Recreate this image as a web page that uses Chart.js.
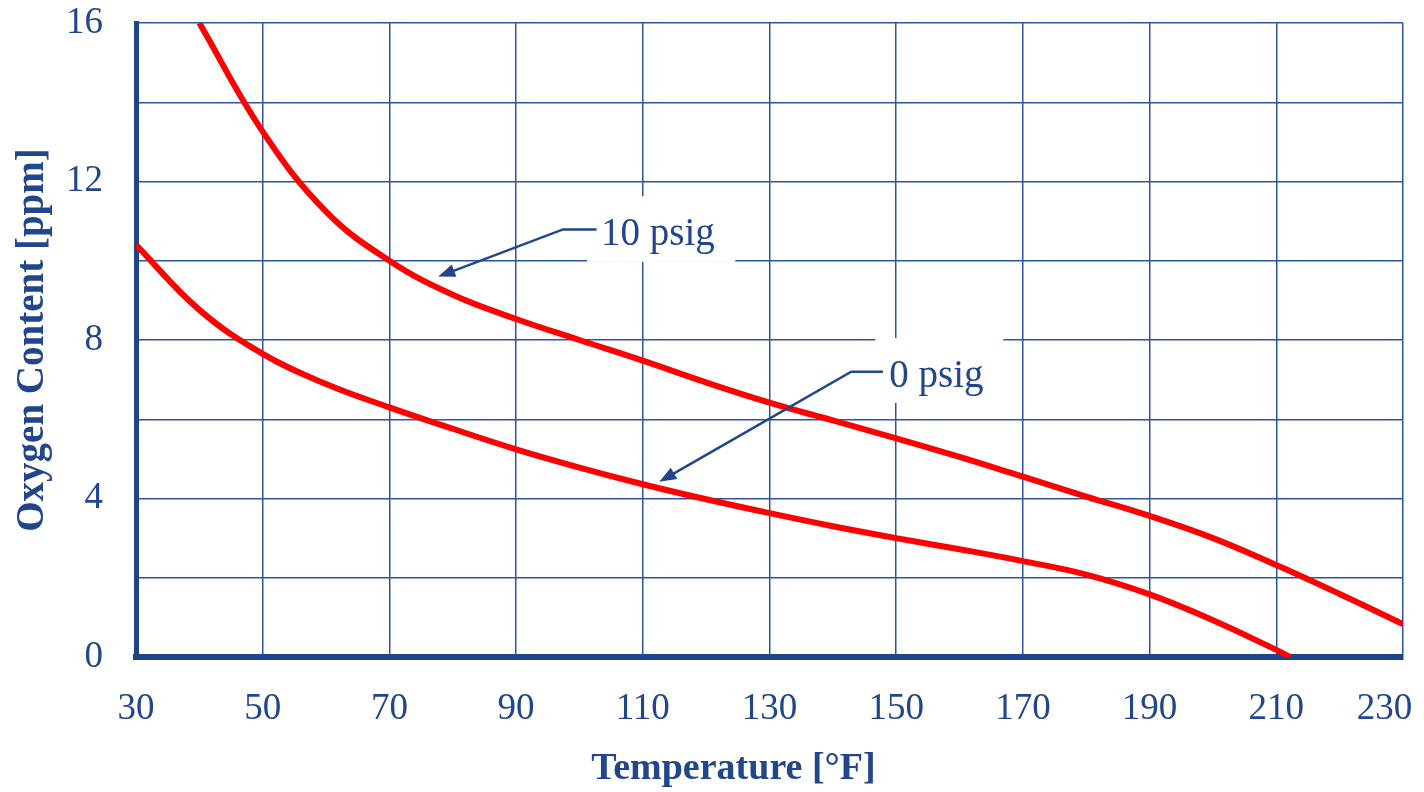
<!DOCTYPE html>
<html>
<head>
<meta charset="utf-8">
<script src="https://cdn.jsdelivr.net/npm/chart.js@4.4.1/dist/chart.umd.min.js"></script>
<style>
  html, body { margin: 0; padding: 0; background: #fff; }
  #wrap { width: 1424px; height: 792px; }
</style>
</head>
<body>
<div id="wrap"><canvas id="myChart" width="1424" height="792"></canvas></div>
<script>
// temperature [°F] / oxygen content [ppm]
const temp0psig = [30, 40, 50, 60, 70, 80, 90, 100, 110, 120, 130, 140, 150, 160, 170, 180, 190, 200, 210, 212.2];
const oxy0psig = [10.4, 8.76, 7.65, 6.89, 6.3, 5.76, 5.24, 4.78, 4.36, 3.98, 3.63, 3.3, 3.0, 2.72, 2.42, 2.08, 1.58, 0.93, 0.18, 0];

const temp10psig = [40, 50, 60, 70, 80, 90, 100, 110, 120, 130, 140, 150, 160, 170, 180, 190, 200, 210, 220, 230];
const oxy10psig = [16, 13.26, 11.24, 10.0, 9.14, 8.53, 8.0, 7.48, 6.93, 6.42, 5.97, 5.52, 5.05, 4.55, 4.05, 3.56, 3.0, 2.32, 1.59, 0.83];

const xTicks = [30, 50, 70, 90, 110, 130, 150, 170, 190, 210, 230];
const yTicks = [0, 4, 8, 12, 16];

const seriesNames = ['0 psig', '10 psig'];
const xTitle = 'Temperature [°F]';
const yTitle = 'Oxygen Content [ppm]';

const BLUE = '#21468b';
const GRID = '#2d54a0';
const SERIF = "'Liberation Serif', 'Times New Roman', serif";

function toPoints(xs, ys) {
  return xs.map((x, i) => ({ x: x, y: ys[i] }));
}

// callouts, in data units
const callouts = [
  { label: seriesNames[1], tip: [77.7, 9.6], elbow: [97.4, 10.79], lineEnd: 102.7, textAt: [103.4, 10.4], box: [101.2, 11.63, 124.6, 9.97] },
  { label: seriesNames[0], tip: [112.6, 4.42], elbow: [142.9, 7.2], lineEnd: 147.9, textAt: [148.9, 6.82], box: [146.7, 8.05, 166.9, 6.41] }
];

const calloutPlugin = {
  id: 'callouts',
  beforeDatasetsDraw(chart) {
    const ctx = chart.ctx, xs = chart.scales.x, ys = chart.scales.y;
    ctx.save();
    ctx.fillStyle = '#fff';
    callouts.forEach(c => {
      const x1 = xs.getPixelForValue(c.box[0]), y1 = ys.getPixelForValue(c.box[1]);
      const x2 = xs.getPixelForValue(c.box[2]), y2 = ys.getPixelForValue(c.box[3]);
      ctx.fillRect(x1, y1, x2 - x1, y2 - y1);
    });
    ctx.restore();
  },
  afterDatasetsDraw(chart) {
    const ctx = chart.ctx, xs = chart.scales.x, ys = chart.scales.y;
    ctx.save();
    callouts.forEach(c => {
      const tx = xs.getPixelForValue(c.tip[0]), ty = ys.getPixelForValue(c.tip[1]);
      const ex = xs.getPixelForValue(c.elbow[0]), ey = ys.getPixelForValue(c.elbow[1]);
      const lx = xs.getPixelForValue(c.lineEnd);
      const ang = Math.atan2(ty - ey, tx - ex);
      const headLen = 17, headW = 6.5;
      const bx = tx - Math.cos(ang) * headLen, by = ty - Math.sin(ang) * headLen;

      ctx.strokeStyle = BLUE;
      ctx.lineWidth = 2.5;
      ctx.beginPath();
      ctx.moveTo(lx, ey);
      ctx.lineTo(ex, ey);
      ctx.lineTo(bx + Math.cos(ang) * 2, by + Math.sin(ang) * 2);
      ctx.stroke();

      ctx.fillStyle = BLUE;
      ctx.beginPath();
      ctx.moveTo(tx, ty);
      ctx.lineTo(bx - Math.sin(ang) * headW, by + Math.cos(ang) * headW);
      ctx.lineTo(bx + Math.sin(ang) * headW, by - Math.cos(ang) * headW);
      ctx.closePath();
      ctx.fill();

      ctx.font = '39px ' + SERIF;
      ctx.textAlign = 'left';
      ctx.textBaseline = 'alphabetic';
      ctx.fillText(c.label, xs.getPixelForValue(c.textAt[0]), ys.getPixelForValue(c.textAt[1]));
    });

    // x axis title sits a little left of the plot centre in the original
    const area = chart.chartArea;
    ctx.font = 'bold 38px ' + SERIF;
    ctx.textAlign = 'center';
    ctx.textBaseline = 'middle';
    ctx.fillStyle = BLUE;
    ctx.fillText(xTitle, (area.left + area.right) / 2 - 36, chart.height - 23);
    ctx.restore();
  }
};

const ctx = document.getElementById('myChart').getContext('2d');
const myChart = new Chart(ctx, {
  type: 'line',
  data: {
    datasets: [
      { label: seriesNames[0], data: toPoints(temp0psig, oxy0psig) },
      { label: seriesNames[1], data: toPoints(temp10psig, oxy10psig) }
    ]
  },
  options: {
    responsive: false,
    animation: false,
    layout: { padding: { top: 23, right: 21, bottom: 0, left: 0 } },
    elements: {
      point: { radius: 0 },
      line: { borderColor: '#ff0000', borderWidth: 6, tension: 0.4, fill: false }
    },
    plugins: {
      legend: { display: false },
      tooltip: { enabled: false }
    },
    scales: {
      x: {
        type: 'linear',
        min: 30,
        max: 230,
        afterBuildTicks(scale) { scale.ticks = xTicks.map(v => ({ value: v })); },
        afterFit(scale) { scale.height = 135; scale.paddingLeft = 0; scale.paddingRight = 0; },
        grid: { color: GRID, lineWidth: 1.5, drawTicks: false },
        border: { color: '#1f4589', width: 6 },
        ticks: {
          color: BLUE,
          padding: 30,
          maxRotation: 0,
          font: { family: SERIF, size: 37 },
          // last label is pulled in so it stays inside the canvas
          callback: v => (v === 230 ? v + '\u2007\u2007' : v)
        },
        title: { display: false, text: xTitle }
      },
      y: {
        min: 0,
        max: 16,
        ticks: {
          stepSize: 2,
          color: BLUE,
          padding: 33,
          font: { family: SERIF, size: 37 },
          callback: v => (yTicks.includes(v) ? v : '')
        },
        afterFit(scale) { scale.width = 136; scale.paddingTop = 0; scale.paddingBottom = 0; },
        grid: { color: GRID, lineWidth: 1.5, drawTicks: false },
        border: { color: '#1f4589', width: 5 },
        title: {
          display: true,
          text: yTitle,
          color: BLUE,
          padding: { top: 10, bottom: 0 },
          font: { family: SERIF, size: 39, weight: 'bold' }
        }
      }
    }
  },
  plugins: [calloutPlugin]
});
</script>
</body>
</html>
